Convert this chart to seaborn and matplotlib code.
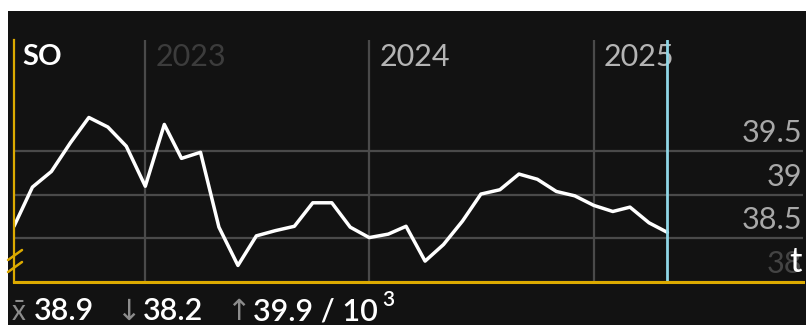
import pandas as pd
import numpy as np
import matplotlib
matplotlib.use("Agg")
import matplotlib.pyplot as plt
import matplotlib.transforms as mtransforms
from matplotlib.patches import Rectangle
import seaborn as sns

# monthly values, Jun 2022 .. May 2025
months = pd.date_range("2022-06-01", "2025-05-01", freq="MS")
values = [38.64, 39.09, 39.27, 39.60, 39.89, 39.78, 39.56, 39.10, 39.81, 39.42,
          39.49, 38.63, 38.19, 38.53, 38.59, 38.64, 38.91, 38.91, 38.63, 38.51,
          38.55, 38.64, 38.24, 38.43, 38.70, 39.01, 39.06, 39.24, 39.18, 39.04,
          38.99, 38.88, 38.81, 38.86, 38.68, 38.57]
year_ticks = ["2023", "2024", "2025"]
year_colors = ["#3c3c3c", "#b4b4b4", "#b4b4b4"]
y_ticks = [38, 38.5, 39, 39.5]
y_labels = ["38", "38.5", "39", "39.5"]
y_colors = ["#444444", "#a8a8a8", "#a8a8a8", "#a8a8a8"]
series_name = "SO"
unit = "t"
stats = {"mean": 38.9, "min": 38.2, "max": 39.9}

df = pd.DataFrame({"date": months, "value": values})

sns.set_style("dark")
plt.rcParams["font.family"] = ["Lato", "DejaVu Sans"]

W, H = 806, 325
BG = "#121212"
GOLD = "#dcaa00"
GRID = "#4a4a4a"

fig = plt.figure(figsize=(W / 100, H / 100), dpi=100)
fig.patch.set_facecolor("white")
fig.patches.append(Rectangle((8 / W, 0), 1, (H - 11) / H, transform=fig.transFigure,
                             facecolor=BG, edgecolor="none", zorder=-10))

ax = fig.add_axes([14 / W, (H - 282) / H, (803 - 14) / W, (282 - 40) / H])
ax.set_facecolor(BG)

sns.lineplot(data=df, x="date", y="value", ax=ax, color="white", linewidth=2.5, zorder=5)

ax.set_xlim(pd.Timestamp("2022-06-01"), pd.Timestamp("2025-12-08"))
ax.set_ylim(38.0, 40.78)

year_dates = [pd.Timestamp(f"{y}-01-01") for y in year_ticks]
ax.set_xticks(year_dates)
ax.set_yticks(y_ticks)
ax.set_xticklabels([])
ax.set_yticklabels([])
ax.tick_params(length=0)
ax.set_xlabel("")
ax.set_ylabel("")
ax.grid(True, color=GRID, linewidth=1.6)

for s in ["top", "right"]:
    ax.spines[s].set_visible(False)
ax.spines["left"].set_color(GOLD)
ax.spines["left"].set_linewidth(1.6)
ax.spines["bottom"].set_color(GOLD)
ax.spines["bottom"].set_linewidth(2.2)
ax.spines["left"].set_zorder(6)
ax.spines["bottom"].set_zorder(6)

# current month marker
ax.axvline(months[-1], color="#8fd6e6", linewidth=2.0, zorder=6)

# year labels
trans_xa = mtransforms.blended_transform_factory(ax.transData, ax.transAxes)
off = mtransforms.ScaledTranslation(10 / 100, 0, fig.dpi_scale_trans)
for d, lab, c in zip(year_dates, year_ticks, year_colors):
    ax.text(d, 0.93, lab, transform=trans_xa + off, color=c, fontsize=22,
            ha="left", va="center")

ax.text(8 / (803 - 14), 0.93, series_name, transform=ax.transAxes, color="white",
        fontsize=21, fontweight="bold", ha="left", va="center")

# value labels on the right
trans_ay = mtransforms.blended_transform_factory(ax.transAxes, ax.transData)
up = mtransforms.ScaledTranslation(0, 4 / 100, fig.dpi_scale_trans)
for v, lab, c in zip(y_ticks, y_labels, y_colors):
    ax.text(0.999, v, lab, transform=trans_ay + up, color=c, fontsize=22,
            ha="right", va="bottom", zorder=7)
ax.text(0.999, 38.0, unit, transform=trans_ay + up, color="white", fontsize=25,
        ha="right", va="bottom", zorder=8)

# axis break marks
for y0 in [250, 262]:
    ax.plot([(8 - 14) / 789, (22 - 14) / 789], [(282 - (y0 + 10)) / 242, (282 - y0) / 242],
            transform=ax.transAxes, color=GOLD, linewidth=1.8, clip_on=False, zorder=7)

# stats line at the bottom
def ftext(px, py, s, **kw):
    fig.text(px / W, 1 - py / H, s, **kw)

base = 320
ftext(12, base, "x\u0304", color="#8c8c8c", fontsize=20, va="baseline")
ftext(34, base, f"{stats['mean']}", color="white", fontsize=22, fontweight="semibold",
      va="baseline")
ftext(116, base, "\u2193", color="#8c8c8c", fontsize=21, va="baseline",
      family=["DejaVu Sans"])
ftext(143, base, f"{stats['min']}", color="white", fontsize=22, fontweight="semibold",
      va="baseline")
ftext(226, base, "\u2191", color="#8c8c8c", fontsize=21, va="baseline",
      family=["DejaVu Sans"])
ftext(253, base, f"{stats['max']} / 10", color="white", fontsize=22,
      fontweight="semibold", va="baseline")
ftext(382, 306, "3", color="white", fontsize=15, fontweight="semibold", va="baseline")

fig.savefig("out.png", dpi=100, facecolor=fig.get_facecolor())
